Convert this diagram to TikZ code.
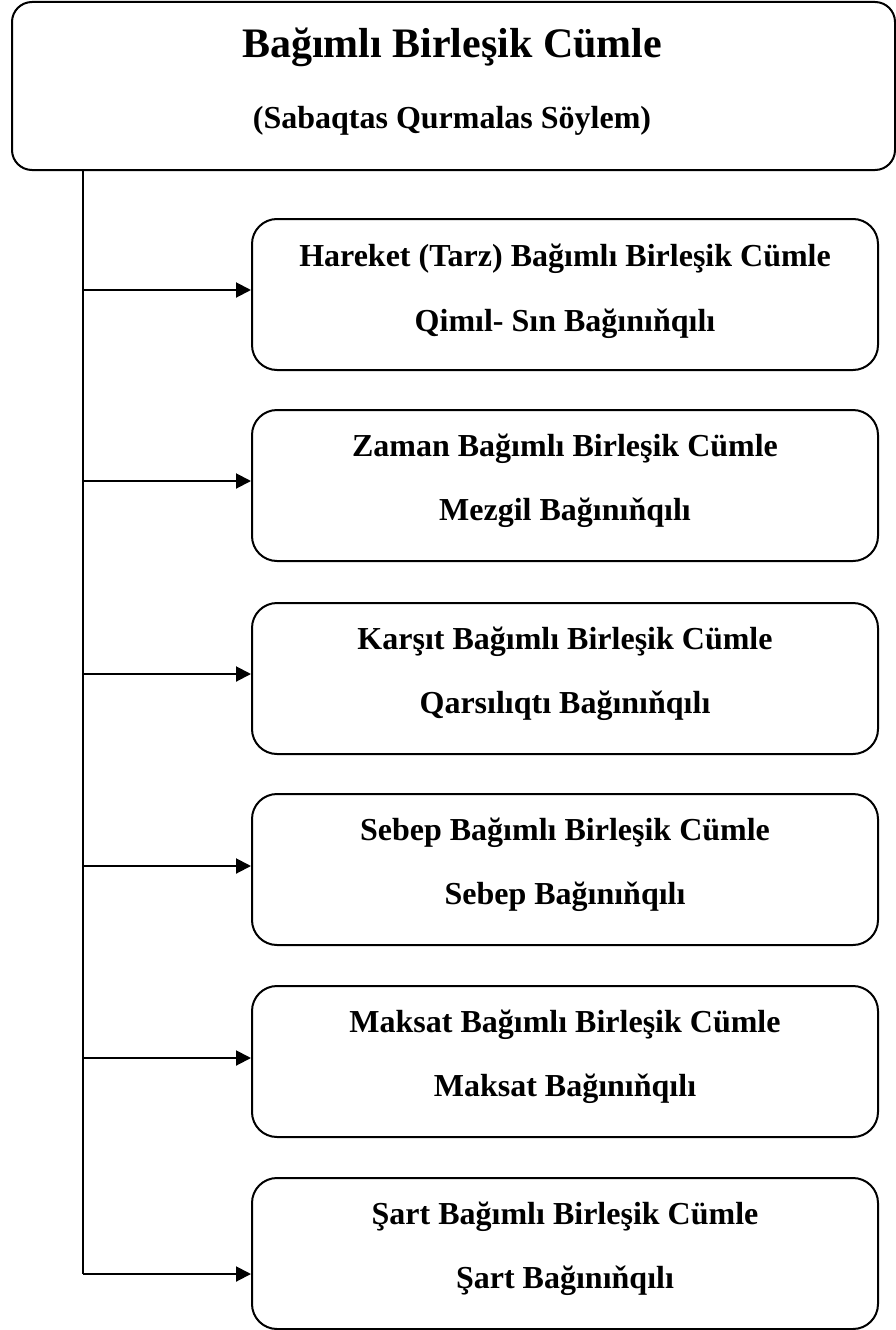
\documentclass[tikz,border=0pt]{standalone}
\usepackage{fontspec}
\setmainfont{Liberation Serif}
\usetikzlibrary{arrows.meta}
\tikzset{
  topbox/.style={draw, line width=2pt, rounded corners=20pt, minimum width=883pt, minimum height=168pt, anchor=north west, inner sep=0pt},
  cbox/.style={draw, line width=2pt, rounded corners=25pt, minimum width=626pt, minimum height=151pt, anchor=north west, inner sep=0pt},
  lbl/.style={anchor=base, inner sep=0pt, font=\fontsize{32}{38}\selectfont\bfseries},
  ttl/.style={anchor=base, inner sep=0pt, font=\fontsize{42}{50}\selectfont\bfseries},
  trunk/.style={line width=1.6pt},
  arr/.style={line width=2pt, -{Triangle[length=15pt,width=15pt]}, shorten >=0pt}
}
\begin{document}
\begin{tikzpicture}[x=1pt,y=-1pt]
\useasboundingbox (0,0) rectangle (895,1330);
% top box
\node[topbox] (top) at (11,1) {};
\node[ttl] (t1) at (452,58) {Bağımlı Birleşik Cümle};
\node[lbl] (t2) at (452,128) {(Sabaqtas Qurmalas Söylem)};
% child boxes
\node[cbox] (b1) at (251,218) {};
\node[cbox] (b2) at (251,409) {};
\node[cbox] (b3) at (251,602) {};
\node[cbox] (b4) at (251,793) {};
\node[cbox] (b5) at (251,985) {};
\node[cbox] (b6) at (251,1177) {};
% texts
\node[lbl] (l1a) at ([yshift=-48pt]b1.north) {Hareket (Tarz) Bağımlı Birleşik Cümle};
\node[lbl] (l1b) at ([yshift=-113pt]b1.north) {Qimıl- Sın Bağınıňqılı};
\node[lbl] (l2a) at ([yshift=-47pt]b2.north) {Zaman Bağımlı Birleşik Cümle};
\node[lbl] (l2b) at ([yshift=-111pt]b2.north) {Mezgil Bağınıňqılı};
\node[lbl] (l3a) at ([yshift=-47pt]b3.north) {Karşıt Bağımlı Birleşik Cümle};
\node[lbl] (l3b) at ([yshift=-111pt]b3.north) {Qarsılıqtı Bağınıňqılı};
\node[lbl] (l4a) at ([yshift=-47pt]b4.north) {Sebep Bağımlı Birleşik Cümle};
\node[lbl] (l4b) at ([yshift=-111pt]b4.north) {Sebep Bağınıňqılı};
\node[lbl] (l5a) at ([yshift=-47pt]b5.north) {Maksat Bağımlı Birleşik Cümle};
\node[lbl] (l5b) at ([yshift=-111pt]b5.north) {Maksat Bağınıňqılı};
\node[lbl] (l6a) at ([yshift=-47pt]b6.north) {Şart Bağımlı Birleşik Cümle};
\node[lbl] (l6b) at ([yshift=-111pt]b6.north) {Şart Bağınıňqılı};
% junctions
\coordinate (v0) at (83,169);
\coordinate (j1) at (83,290);
\coordinate (j2) at (83,481);
\coordinate (j3) at (83,674);
\coordinate (j4) at (83,866);
\coordinate (j5) at (83,1058);
\coordinate (j6) at (83,1274);
\draw[trunk] (v0) -- (j6);
\draw[arr] (j1) -- (j1 -| b1.west);
\draw[arr] (j2) -- (j2 -| b2.west);
\draw[arr] (j3) -- (j3 -| b3.west);
\draw[arr] (j4) -- (j4 -| b4.west);
\draw[arr] (j5) -- (j5 -| b5.west);
\draw[arr] (j6) -- (j6 -| b6.west);
\end{tikzpicture}
\end{document}
